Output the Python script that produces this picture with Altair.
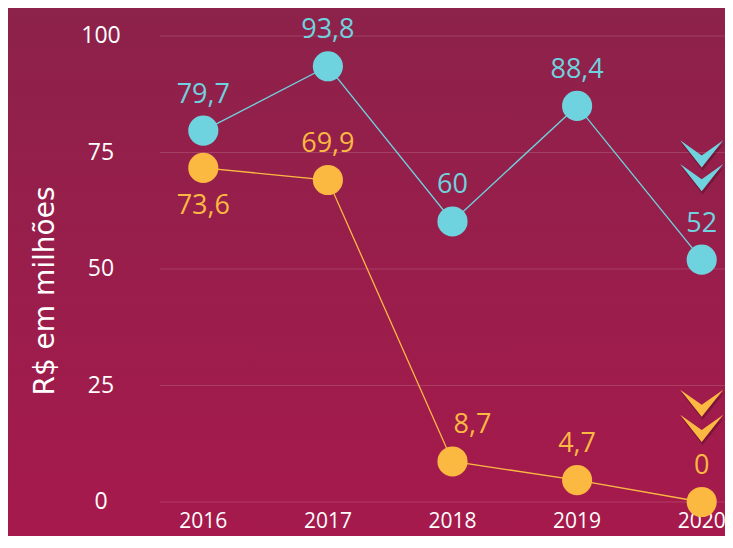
import altair as alt
import pandas as pd

# ---- data ----
years = [2016, 2017, 2018, 2019, 2020]
azul_values = [79.7, 93.5, 60.2, 85.0, 52.0]
azul_labels = ["79,7", "93,8", "60", "88,4", "52"]
laranja_values = [71.7, 69.1, 8.7, 4.7, 0.0]
laranja_labels = ["73,6", "69,9", "8,7", "4,7", "0"]
y_ticks = [0, 25, 50, 75, 100]
y_title = "R$ em milhões"
chevron_year = 2020
azul_chevrons = [74.7, 69.6]
laranja_chevrons = [21.2, 15.8]
labels_below = [("laranja", 2016)]
labels_right = [("laranja", 2018)]

series_names = ["azul", "laranja"]
series_colors = ["#6fd3df", "#fcb942"]

rows = []
for name, vals, labs in [("azul", azul_values, azul_labels),
                         ("laranja", laranja_values, laranja_labels)]:
    for yr, v, lab in zip(years, vals, labs):
        if (name, yr) in labels_below:
            pos = "abaixo"
        elif (name, yr) in labels_right:
            pos = "direita"
        else:
            pos = "acima"
        rows.append({"serie": name, "ano": yr, "valor": v, "rotulo": lab, "pos": pos})
df = pd.DataFrame(rows)

chev_rows = []
for name, ys in [("azul", azul_chevrons), ("laranja", laranja_chevrons)]:
    for v in ys:
        chev_rows.append({"serie": name, "ano": chevron_year, "valor": v})
chev = pd.DataFrame(chev_rows)

grid_df = pd.DataFrame({"valor": y_ticks})
years_df = pd.DataFrame({"ano": years})
one = pd.DataFrame({"a": [0]})

W, H = 565, 466
FONT = "Open Sans"

xscale = alt.Scale(domain=[2015.6525, 2020.187], nice=False, zero=False)
yscale = alt.Scale(domain=[0, 100], nice=False)
cscale = alt.Scale(domain=series_names, range=series_colors)

X = lambda f: alt.X(f, scale=xscale, axis=None)
Y = lambda f: alt.Y(f, scale=yscale, axis=None)

bg = alt.Chart(one).mark_rect(
    fill=alt.LinearGradient(
        gradient="linear",
        stops=[alt.GradientStop(color="#8c224a", offset=0),
               alt.GradientStop(color="#a7194c", offset=1)],
        x1=0, x2=0, y1=0, y2=1),
).encode(x=alt.value(-160), x2=alt.value(W + 20), y=alt.value(-40), y2=alt.value(H + 60))

grid = alt.Chart(grid_df).mark_rule(color="white", opacity=0.14, strokeWidth=1).encode(
    y=Y("valor:Q"), x=alt.value(0), x2=alt.value(W + 20))

ylabels = alt.Chart(grid_df).mark_text(
    color="white", fontSize=23, font=FONT, align="center", baseline="middle").encode(
    y=Y("valor:Q"), x=alt.value(-59), text=alt.Text("valor:Q", format="d"))

xlabels = alt.Chart(years_df).mark_text(
    color="white", fontSize=21, font=FONT, align="center", baseline="middle").encode(
    x=X("ano:Q"), y=alt.value(H + 20), text=alt.Text("ano:Q", format="d"))

ytitle = alt.Chart(one).mark_text(
    color="white", fontSize=28, font="DejaVu Sans", angle=270,
    align="center", baseline="middle").encode(
    x=alt.value(-114), y=alt.value(255), text=alt.value(y_title))

base = alt.Chart(df).encode(
    x=X("ano:Q"), y=Y("valor:Q"),
    color=alt.Color("serie:N", scale=cscale, legend=None),
)

lines = base.mark_line(strokeWidth=1.3)
dots = base.mark_circle(size=908, opacity=1)
text_up = base.mark_text(dy=-36, fontSize=27, font=FONT).encode(
    text="rotulo:N").transform_filter(alt.datum.pos == "acima")
text_right = base.mark_text(dy=-36, dx=20, fontSize=27, font=FONT).encode(
    text="rotulo:N").transform_filter(alt.datum.pos == "direita")
text_down = base.mark_text(dy=38, fontSize=27, font=FONT).encode(
    text="rotulo:N").transform_filter(alt.datum.pos == "abaixo")

CHEVRON = "M-1,-0.63L0,0.07L1,-0.63L0,0.63Z"
chev_base = alt.Chart(chev).encode(x=X("ano:Q"), y=Y("valor:Q"))
chev_shadow = chev_base.mark_point(shape=CHEVRON, filled=True, size=1849,
                                   color="#3d0718", opacity=0.35, strokeWidth=0,
                                   xOffset=1, yOffset=3)
chev_marks = chev_base.mark_point(shape=CHEVRON, filled=True, size=1849,
                                  opacity=1, strokeWidth=0).encode(
    color=alt.Color("serie:N", scale=cscale, legend=None))

chart = alt.layer(bg, grid, ylabels, xlabels, ytitle, lines, dots, text_up, text_right,
                  text_down, chev_shadow, chev_marks).properties(
    width=W, height=H,
    padding={"left": 152, "top": 28, "right": 0, "bottom": 34},
    autosize=alt.AutoSizeParams(type="none"),
    background="#8c224a",
).configure_view(stroke=None)

chart.save("out.html", embed_options={"renderer": "svg", "actions": False})
